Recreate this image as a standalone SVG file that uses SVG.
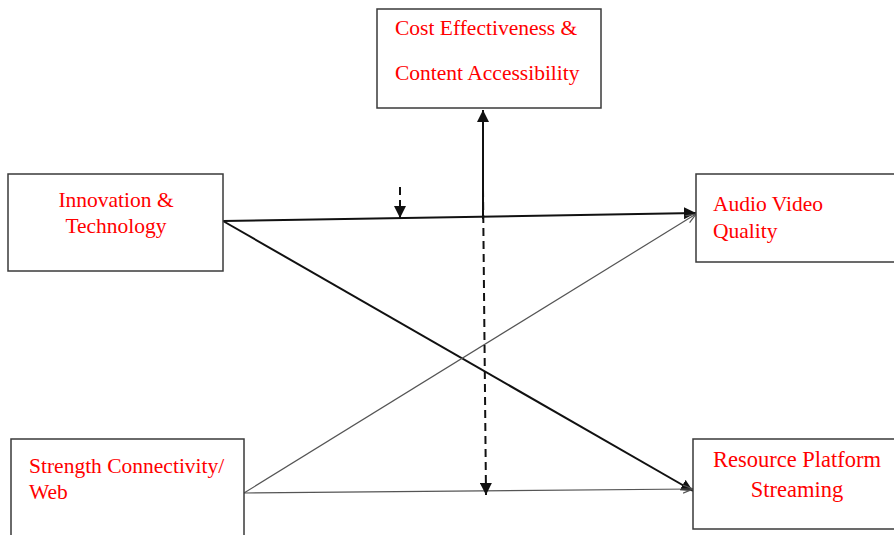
<svg xmlns="http://www.w3.org/2000/svg" width="894" height="535" viewBox="0 0 894 535">
  <style>
    .box { fill: #ffffff; stroke: #3a3a3a; stroke-width: 1.5; }
    .lbl { font-family: "Liberation Serif", "Times New Roman", serif; font-size: 21.5px; fill: #ff0000; }
    .big { font-size: 22.5px; }
    .thick { stroke: #111111; stroke-width: 2; fill: none; }
    .thin { stroke: #555555; stroke-width: 1.2; fill: none; }
    .dash { stroke: #111111; stroke-width: 2; fill: none; stroke-dasharray: 8 5; }
  </style>
  <defs>
    <marker id="arrowBig" viewBox="0 0 10 10" refX="10" refY="5" markerWidth="12" markerHeight="12" markerUnits="userSpaceOnUse" orient="auto">
      <path d="M0,0 L10,5 L0,10 Z" fill="#111111"/>
    </marker>
    <marker id="arrowOpen" viewBox="0 0 10 10" refX="10" refY="5" markerWidth="10" markerHeight="10" markerUnits="userSpaceOnUse" orient="auto">
      <path d="M0,1 L10,5 L0,9" fill="none" stroke="#555555" stroke-width="1.2"/>
    </marker>
  </defs>

  <g id="connectors">
    <line class="thick" x1="223" y1="221" x2="696" y2="213" marker-end="url(#arrowBig)"/>
    <line class="thick" x1="223" y1="221" x2="693" y2="491" marker-end="url(#arrowBig)"/>
    <line class="thin" x1="244" y1="493" x2="696" y2="214" marker-end="url(#arrowOpen)"/>
    <line class="thin" x1="244" y1="493" x2="693" y2="489" marker-end="url(#arrowOpen)"/>
    <line class="thick" x1="483" y1="219" x2="483" y2="110" marker-end="url(#arrowBig)"/>
    <line class="dash" x1="483" y1="189" x2="486" y2="495" marker-end="url(#arrowBig)"/>
    <line class="dash" x1="400" y1="187" x2="400" y2="218" marker-end="url(#arrowBig)"/>
  </g>

  <g id="cost-effectiveness">
    <rect class="box" x="377" y="9" width="224" height="99"/>
    <text class="lbl" x="395" y="35">Cost Effectiveness &amp;</text>
    <text class="lbl" x="395" y="80">Content Accessibility</text>
  </g>

  <g id="innovation">
    <rect class="box" x="8" y="174" width="215" height="97"/>
    <text class="lbl" x="116" y="207" text-anchor="middle">Innovation &amp;</text>
    <text class="lbl" x="116" y="233" text-anchor="middle">Technology</text>
  </g>

  <g id="audio-video">
    <rect class="box" x="696" y="174" width="210" height="88"/>
    <text class="lbl" x="713" y="211">Audio Video</text>
    <text class="lbl" x="713" y="238">Quality</text>
  </g>

  <g id="strength">
    <rect class="box" x="11" y="439" width="233" height="110"/>
    <text class="lbl" x="29" y="473">Strength Connectivity/</text>
    <text class="lbl" x="29" y="499">Web</text>
  </g>

  <g id="resource">
    <rect class="box" x="693" y="439" width="213" height="90"/>
    <text class="lbl big" x="797" y="467" text-anchor="middle">Resource Platform</text>
    <text class="lbl big" x="797" y="497" text-anchor="middle">Streaming</text>
  </g>
</svg>
